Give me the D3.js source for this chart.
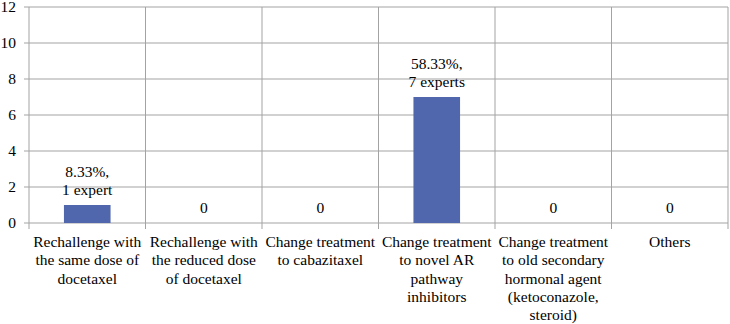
<!DOCTYPE html>
<html>
<head>
<meta charset="utf-8">
<script src="https://cdn.jsdelivr.net/npm/d3@7"></script>
</head>
<body style="margin:0">
<svg id="plot" width="730" height="324"></svg>
<script>
const categories = [
  ['Rechallenge with', 'the same dose of', 'docetaxel'],
  ['Rechallenge with', 'the reduced dose', 'of docetaxel'],
  ['Change treatment', 'to cabazitaxel'],
  ['Change treatment', 'to novel AR', 'pathway', 'inhibitors'],
  ['Change treatment', 'to old secondary', 'hormonal agent', '(ketoconazole,', 'steroid)'],
  ['Others']
];
const values = [1, 0, 0, 7, 0, 0];
const barLabels = [['8.33%,', '1 expert'], ['0'], ['0'], ['58.33%,', '7 experts'], ['0'], ['0']];
const yTicks = [0, 2, 4, 6, 8, 10, 12];

const svg = d3.select('#plot');
const margin = { top: 7, right: 2, bottom: 101, left: 29 };
const width = +svg.attr('width');
const height = +svg.attr('height');
const innerWidth = width - margin.left - margin.right;
const innerHeight = height - margin.top - margin.bottom;
const gridColor = '#a3a3a3';
// text drawn at 20px and scaled down to ~15.5px
const k = 0.775;
const label = (sel, anchor) => sel
  .attr('text-anchor', anchor)
  .style('font-family', '"Liberation Serif"')
  .attr('font-size', 20);

const xScale = d3.scaleBand()
  .domain(d3.range(categories.length))
  .range([margin.left, margin.left + innerWidth])
  .paddingInner(0.6)
  .paddingOuter(0.3);

const yScale = d3.scaleLinear()
  .domain([0, 12])
  .range([margin.top + innerHeight, margin.top]);

const step = xScale.step();
const bounds = d3.range(categories.length + 1).map(i => margin.left + i * step);
const y0 = yScale(0);

// horizontal grid
svg.selectAll('.hgrid').data(yTicks).enter().append('line')
  .attr('x1', margin.left - 5).attr('x2', margin.left + innerWidth)
  .attr('y1', d => yScale(d)).attr('y2', d => yScale(d))
  .attr('stroke', gridColor);

// vertical grid / category separators
svg.selectAll('.vgrid').data(bounds).enter().append('line')
  .attr('x1', d => d).attr('x2', d => d)
  .attr('y1', margin.top).attr('y2', y0 + 6)
  .attr('stroke', gridColor);

// y tick labels
svg.selectAll('.ytick').data(yTicks).enter().append('text')
  .attr('transform', d => `translate(${margin.left - 13}, ${yScale(d) + 5}) scale(${k})`)
  .call(label, 'end')
  .text(d => d);

// bars
svg.selectAll('.bar').data(values).enter().append('rect')
  .attr('x', (d, i) => xScale(i))
  .attr('y', d => yScale(d))
  .attr('width', xScale.bandwidth())
  .attr('height', d => y0 - yScale(d))
  .attr('fill', '#5066ad');

// data labels, one text per line
const lineH = 18;
barLabels.forEach((lines, i) => {
  const cx = xScale(i) + xScale.bandwidth() / 2;
  const top = yScale(values[i]) - 10 - (lines.length - 1) * lineH;
  svg.selectAll(null).data(lines).enter().append('text')
    .attr('transform', (d, j) => `translate(${cx}, ${top + j * lineH}) scale(${k})`)
    .call(label, 'middle')
    .text(d => d);
});

// category labels, one text per line
categories.forEach((lines, i) => {
  const cx = xScale(i) + xScale.bandwidth() / 2;
  svg.selectAll(null).data(lines).enter().append('text')
    .attr('transform', (d, j) => `translate(${cx}, ${y0 + 24 + j * 18.3}) scale(${k})`)
    .call(label, 'middle')
    .text(d => d);
});
</script>
</body>
</html>
